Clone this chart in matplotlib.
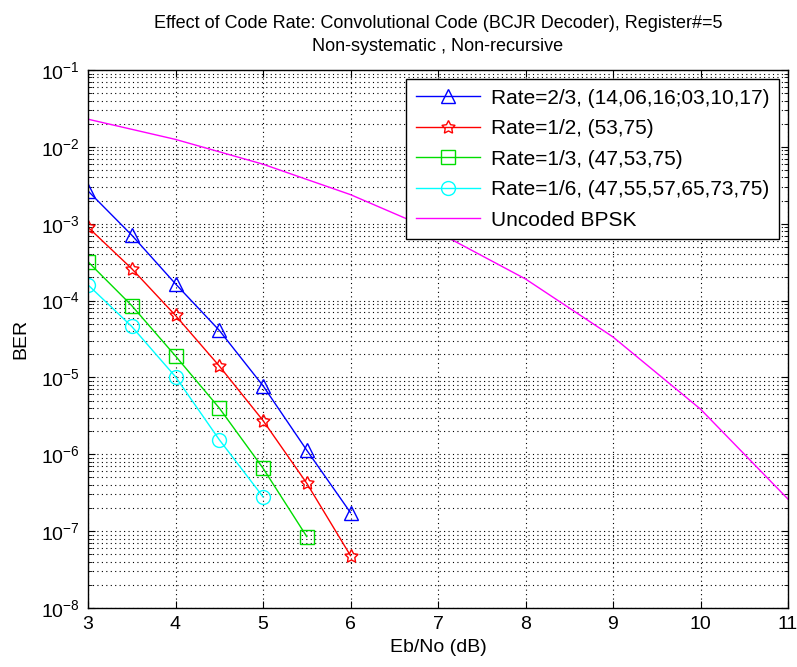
import numpy as np
import matplotlib.pyplot as plt
from matplotlib.ticker import LogLocator, NullFormatter

plt.rcParams['font.family'] = ['Liberation Sans', 'DejaVu Sans']
plt.rcParams['mathtext.default'] = 'regular'

# Eb/No points (dB)
snr_coded = [3.0, 3.5, 4.0, 4.5, 5.0, 5.5, 6.0]
snr_uncoded = [3, 4, 5, 6, 7, 8, 9, 10, 11]

# BER values
ber_r23 = [2.67e-3, 7.1e-4, 1.65e-4, 4.1e-5, 7.8e-6, 1.13e-6, 1.74e-7]
ber_r12 = [9.0e-4, 2.6e-4, 6.4e-5, 1.41e-5, 2.75e-6, 4.2e-7, 4.8e-8]
ber_r13 = [3.2e-4, 8.6e-5, 1.9e-5, 4.0e-6, 6.6e-7, 8.5e-8]
ber_r16 = [1.6e-4, 4.6e-5, 1.02e-5, 1.55e-6, 2.8e-7]
ber_uncoded = [2.29e-2, 1.25e-2, 5.95e-3, 2.39e-3, 7.73e-4, 1.91e-4,
               3.36e-5, 3.87e-6, 2.61e-7]

labels = [
    "Rate=2/3, (14,06,16;03,10,17)",
    "Rate=1/2, (53,75)",
    "Rate=1/3, (47,53,75)",
    "Rate=1/6, (47,55,57,65,73,75)",
    "Uncoded BPSK",
]

fig = plt.figure(figsize=(7.97, 6.67), dpi=100, facecolor="white")
ax = fig.add_axes([88 / 797, 1 - 608 / 667, 700 / 797, 538 / 667])

mk = dict(markerfacecolor="none", markersize=10, markeredgewidth=1.0, linewidth=1.0)
ax.semilogy(snr_coded, ber_r23, color="#0000ff", marker="^", label=labels[0], **mk)
ax.semilogy(snr_coded, ber_r12, color="#ff0000", marker=(5, 1, 0), label=labels[1], **mk)
ax.semilogy(snr_coded[:6], ber_r13, color="#00dd00", marker="s", label=labels[2], **mk)
ax.semilogy(snr_coded[:5], ber_r16, color="#00ffff", marker="o", label=labels[3], **mk)
ax.semilogy(snr_uncoded, ber_uncoded, color="#ff00ff", linewidth=1.0, label=labels[4])

ax.set_xlim(3, 11)
ax.set_ylim(1e-8, 1e-1)
ax.set_xticks(range(3, 12))
ax.yaxis.set_major_locator(LogLocator(base=10, numticks=12))
ax.yaxis.set_minor_locator(LogLocator(base=10, subs=np.arange(2, 10), numticks=12))
ax.yaxis.set_minor_formatter(NullFormatter())

grid_kw = dict(color="black", linestyle=(0, (1, 3)), linewidth=0.8)
ax.grid(True, which="major", axis="both", **grid_kw)
ax.grid(True, which="minor", axis="y", **grid_kw)

ax.tick_params(which="both", direction="in", top=True, right=True, labelsize=14)
ax.tick_params(which="major", length=5, pad=6)
ax.tick_params(which="minor", length=3)
for sp in ax.spines.values():
    sp.set_linewidth(1.0)

ax.set_xlabel("Eb/No (dB)", fontsize=14, labelpad=4)
ax.set_ylabel("BER", fontsize=14, labelpad=8)
ax.set_title("Effect of Code Rate: Convolutional Code (BCJR Decoder), Register#=5\n"
             "Non-systematic , Non-recursive", fontsize=13, pad=14, linespacing=1.45)

leg = ax.legend(loc="upper right", fontsize=15, fancybox=False, framealpha=1,
                edgecolor="black", borderaxespad=0.45, handlelength=3.1,
                labelspacing=0.55, borderpad=0.45, handletextpad=0.5)
leg.get_frame().set_linewidth(1.0)

fig.savefig("out.png", dpi=100, facecolor="white")
